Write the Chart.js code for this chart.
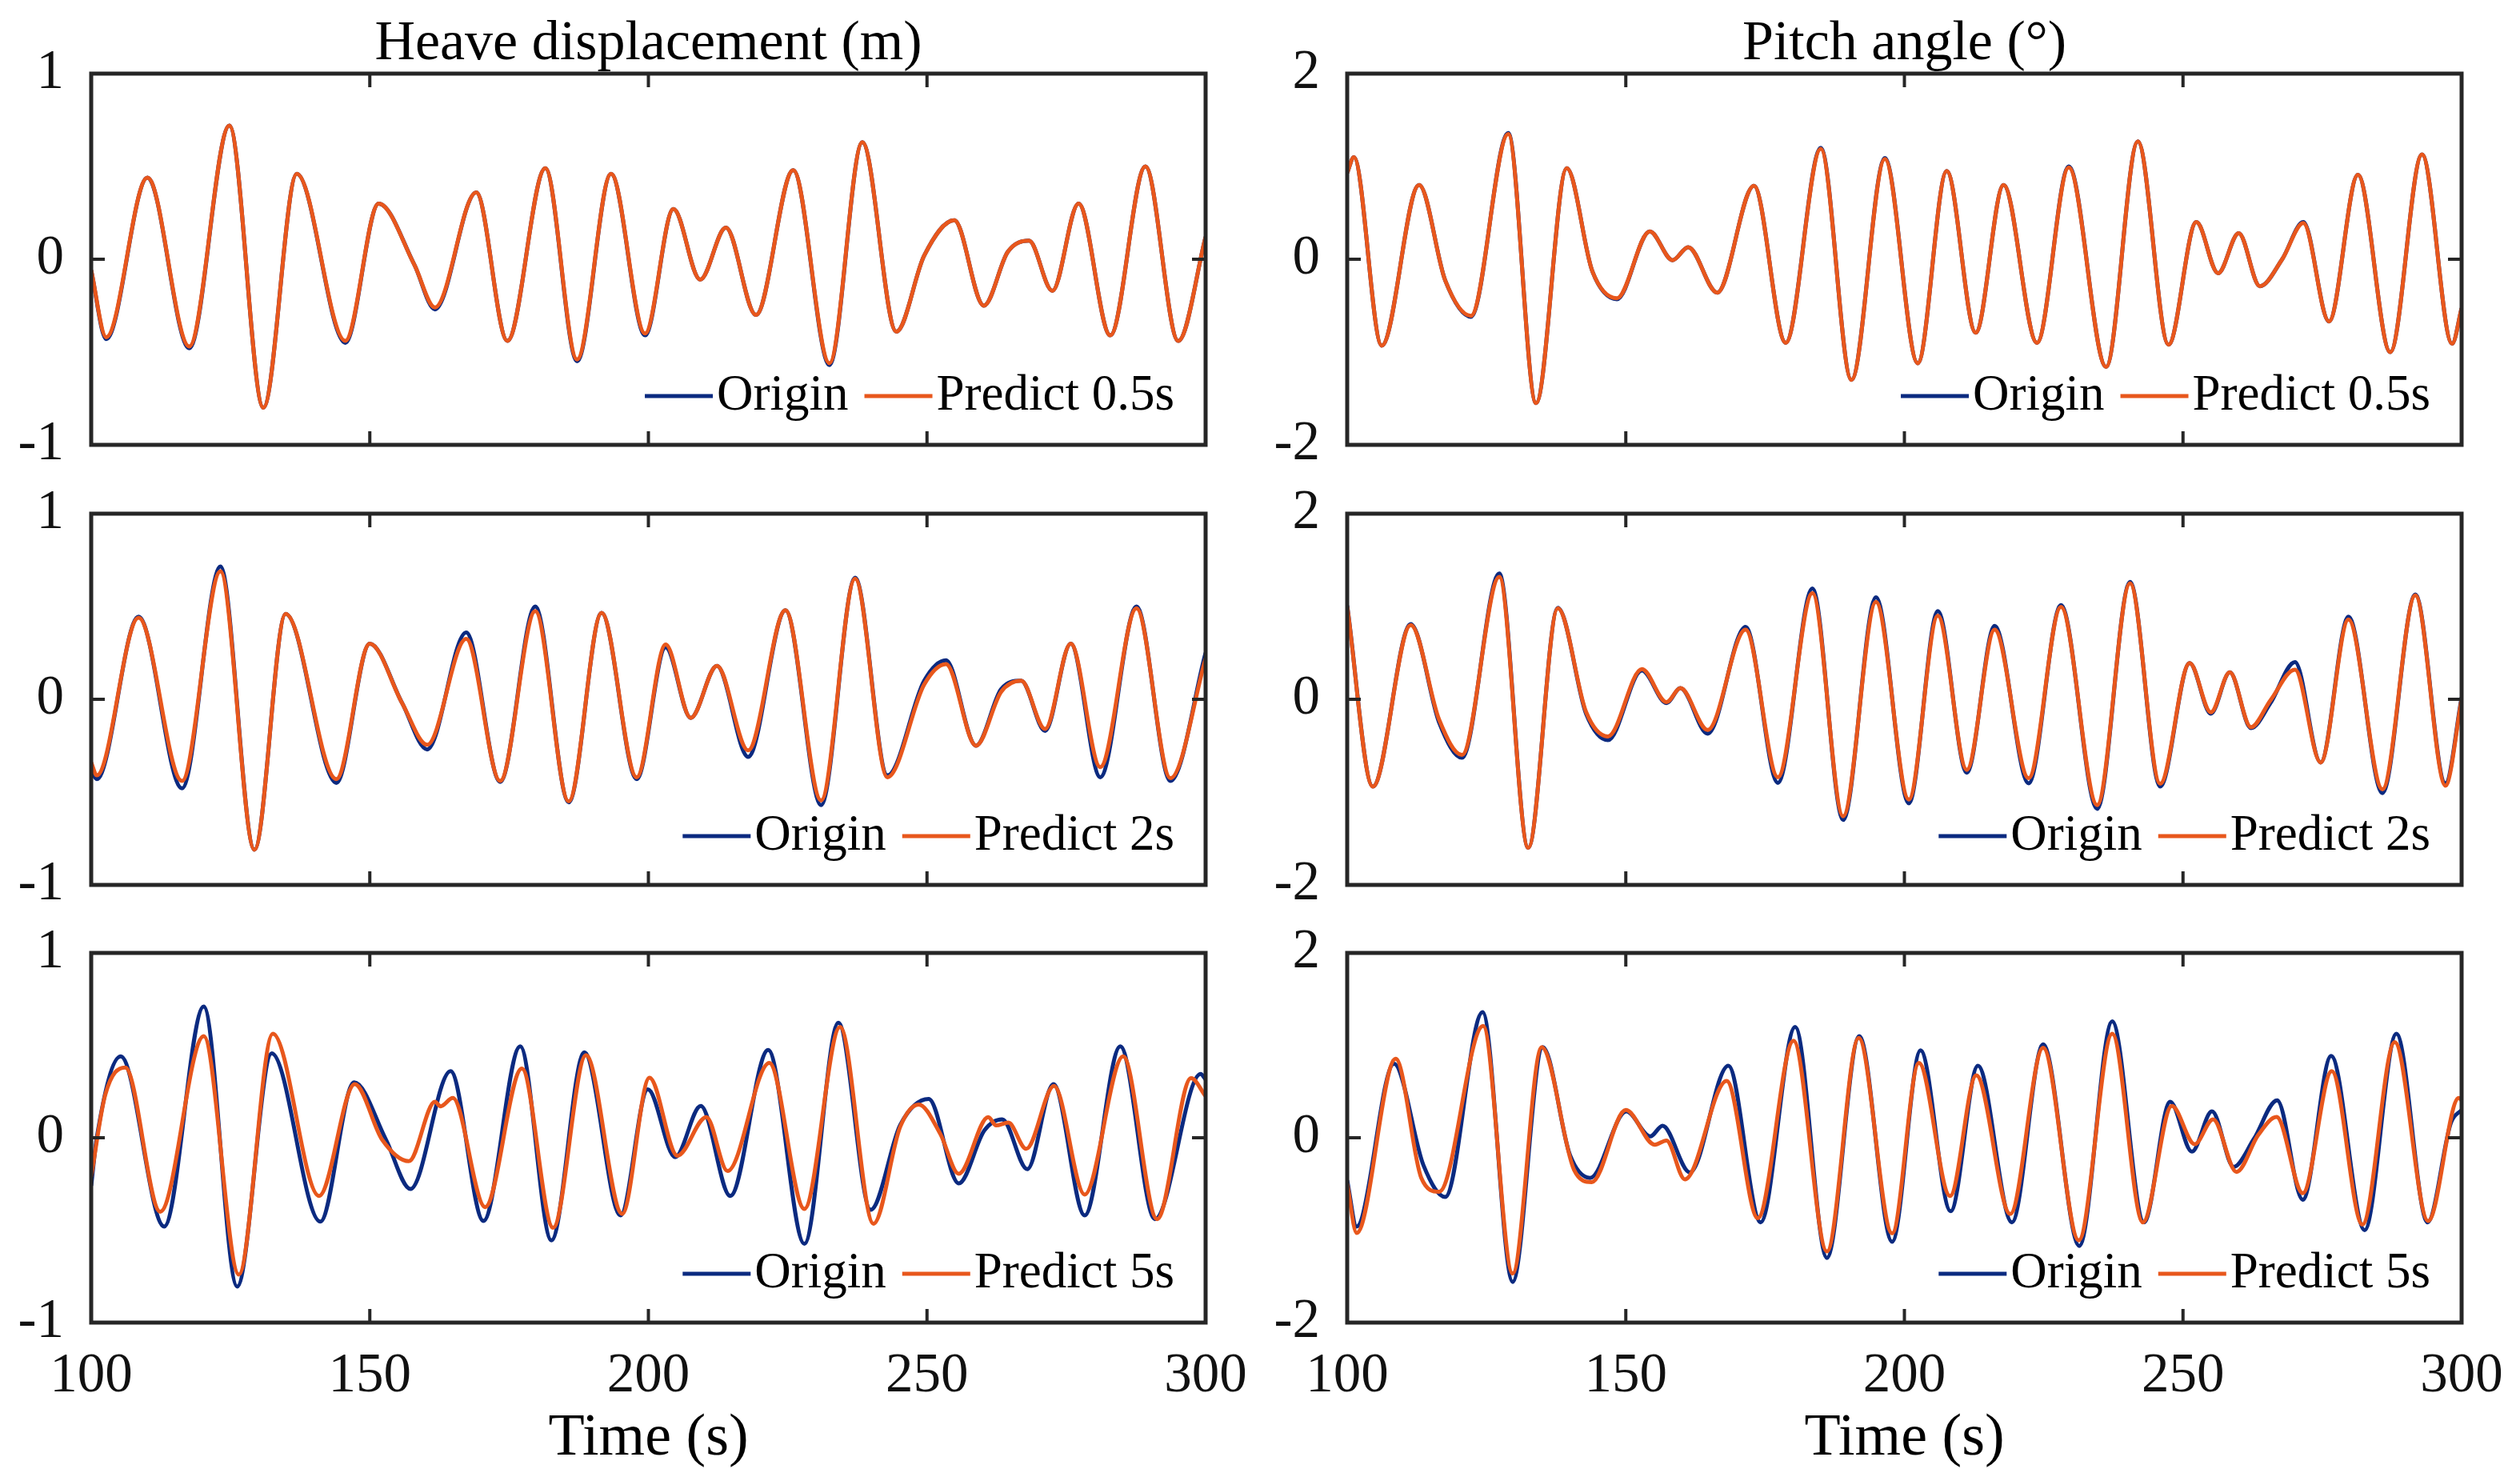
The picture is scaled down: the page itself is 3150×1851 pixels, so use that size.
<!DOCTYPE html>
<html>
<head>
<meta charset="utf-8">
<title>Heave and pitch prediction</title>
<script src="https://cdn.jsdelivr.net/npm/chart.js@4.4.1/dist/chart.umd.min.js"></script>
<style>
  html, body { margin: 0; padding: 0; background: #fff; }
  #wrap { position: relative; width: 3150px; height: 1851px; overflow: hidden; font-family: "Liberation Serif", serif; }
  canvas { position: absolute; }
</style>
</head>
<body>
<div id="wrap">
  <canvas id="c11" width="1575" height="600" style="left:0;top:0"></canvas>
  <canvas id="c12" width="1575" height="600" style="left:1575px;top:0"></canvas>
  <canvas id="c21" width="1575" height="550" style="left:0;top:600px"></canvas>
  <canvas id="c22" width="1575" height="550" style="left:1575px;top:600px"></canvas>
  <canvas id="c31" width="1575" height="701" style="left:0;top:1150px"></canvas>
  <canvas id="c32" width="1575" height="701" style="left:1575px;top:1150px"></canvas>
</div>
<script>
// ---- data (time in s, values at peaks / troughs) ----
const xTicks = [100, 150, 200, 250, 300];
const horizons = ["0.5s", "2s", "5s"];

// heave, 0.5 s
const heaveT1 = [100, 102.7, 110.1, 117.6, 124.8, 130.9, 136.9, 145.6, 151.6, 158, 161.7, 169.1, 174.7, 181.5, 187.2, 193.3, 199.4, 204.5, 209.3, 213.9, 219.3, 226, 232.5, 238.4, 244.5, 249.5, 254.9, 260.2, 264.5, 268.3, 272.5, 277.2, 282.9, 289.2, 295.1, 300];
const heaveOrig1 = [-0.06, -0.43, 0.44, -0.48, 0.72, -0.8, 0.46, -0.45, 0.3, -0.03, -0.27, 0.36, -0.44, 0.49, -0.55, 0.46, -0.41, 0.27, -0.11, 0.17, -0.3, 0.48, -0.57, 0.63, -0.39, 0.02, 0.21, -0.25, 0.04, 0.1, -0.17, 0.3, -0.41, 0.5, -0.44, 0.12];
const heavePred1 = [-0.06, -0.42, 0.44, -0.47, 0.72, -0.8, 0.46, -0.44, 0.3, -0.03, -0.26, 0.36, -0.44, 0.49, -0.54, 0.46, -0.4, 0.27, -0.11, 0.17, -0.3, 0.48, -0.56, 0.63, -0.39, 0.02, 0.21, -0.25, 0.04, 0.1, -0.17, 0.3, -0.41, 0.5, -0.44, 0.12];

// pitch, 0.5 s
const pitchT1 = [100, 101.2, 106.2, 112.9, 117.6, 122.2, 128.9, 133.9, 139.4, 144, 148.4, 154.3, 158.4, 161.2, 166.4, 173, 178.7, 185, 190.5, 196.5, 202.4, 207.6, 212.8, 217.8, 223.8, 229.5, 236.2, 241.9, 247.4, 252.4, 256.3, 260, 263.8, 267.8, 271.6, 276.2, 281.4, 287.2, 292.9, 298.3, 300];
const pitchOrig1 = [0.93, 1.1, -0.93, 0.8, -0.23, -0.62, 1.36, -1.55, 0.98, -0.13, -0.43, 0.3, -0.01, 0.13, -0.36, 0.79, -0.9, 1.2, -1.3, 1.09, -1.12, 0.95, -0.79, 0.8, -0.9, 1.0, -1.16, 1.27, -0.92, 0.4, -0.15, 0.28, -0.29, 0.0, 0.4, -0.67, 0.91, -1.0, 1.13, -0.91, -0.53];
const pitchPred1 = [0.93, 1.1, -0.93, 0.8, -0.23, -0.61, 1.35, -1.55, 0.98, -0.13, -0.42, 0.3, -0.01, 0.13, -0.36, 0.79, -0.9, 1.19, -1.3, 1.08, -1.12, 0.95, -0.79, 0.8, -0.9, 0.99, -1.16, 1.27, -0.92, 0.4, -0.15, 0.28, -0.29, 0.0, 0.39, -0.67, 0.91, -1.0, 1.13, -0.91, -0.53];

// heave, 2 s
const heaveT2 = [100, 101, 108.5, 116.3, 123.2, 129.3, 134.9, 144, 150, 155.8, 160.3, 167.3, 173.4, 179.7, 185.7, 191.6, 197.9, 203.1, 207.6, 212.3, 217.9, 224.6, 231, 237.1, 242.9, 249.5, 253.4, 258.8, 263.3, 266.9, 271.2, 275.8, 281.1, 287.6, 293.7, 300];
const heaveOrig2 = [-0.38, -0.43, 0.445, -0.48, 0.715, -0.81, 0.46, -0.45, 0.3, -0.02, -0.27, 0.36, -0.445, 0.5, -0.555, 0.465, -0.43, 0.28, -0.1, 0.18, -0.31, 0.48, -0.57, 0.655, -0.41, 0.1, 0.21, -0.25, 0.055, 0.1, -0.17, 0.3, -0.42, 0.5, -0.44, 0.25];
const heavePred2 = [-0.34, -0.41, 0.44, -0.44, 0.69, -0.81, 0.46, -0.43, 0.3, -0.02, -0.245, 0.325, -0.44, 0.475, -0.55, 0.465, -0.42, 0.295, -0.1, 0.18, -0.275, 0.48, -0.545, 0.65, -0.42, 0.08, 0.19, -0.25, 0.04, 0.1, -0.16, 0.3, -0.365, 0.49, -0.425, 0.22];

// pitch, 2 s
const pitchT2 = [100, 104.6, 111.4, 116.5, 120.6, 127.3, 132.5, 137.8, 142.9, 146.8, 152.9, 157.3, 159.8, 164.7, 171.5, 177.3, 183.5, 189, 194.9, 200.8, 206, 211.2, 216.2, 222.3, 228.1, 234.6, 240.5, 245.9, 251.2, 255, 258.4, 262.2, 265.7, 270.1, 274.7, 279.7, 285.8, 291.7, 297.1, 300];
const pitchOrig2 = [1.01, -0.94, 0.81, -0.25, -0.63, 1.355, -1.6, 0.985, -0.16, -0.44, 0.31, -0.04, 0.12, -0.37, 0.78, -0.9, 1.195, -1.3, 1.1, -1.12, 0.95, -0.79, 0.79, -0.905, 1.015, -1.18, 1.265, -0.94, 0.39, -0.155, 0.29, -0.31, -0.04, 0.4, -0.68, 0.89, -1.01, 1.13, -0.905, 0.02];
const pitchPred2 = [1.0, -0.94, 0.8, -0.22, -0.6, 1.32, -1.6, 0.98, -0.14, -0.4, 0.325, -0.03, 0.12, -0.33, 0.75, -0.84, 1.145, -1.26, 1.05, -1.08, 0.9, -0.76, 0.75, -0.85, 0.995, -1.14, 1.25, -0.91, 0.39, -0.14, 0.29, -0.3, -0.01, 0.32, -0.68, 0.86, -0.97, 1.12, -0.93, 0.0];

// heave, 5 s
const heaveOrigT3 = [100, 101, 105.3, 113.1, 120.2, 126.2, 132.4, 141.1, 147.2, 152.9, 157.3, 164.5, 170.4, 177, 182.6, 188.5, 195, 199.9, 204.8, 209.4, 214.7, 221.5, 228, 234.1, 239.9, 245.2, 250.3, 255.7, 260.3, 263.5, 268, 272.7, 278.3, 284.7, 290.9, 299.1, 300];
const heaveOrig3 = [-0.26, 0.0, 0.44, -0.48, 0.71, -0.805, 0.457, -0.454, 0.3, -0.01, -0.277, 0.36, -0.45, 0.495, -0.555, 0.462, -0.42, 0.262, -0.105, 0.172, -0.315, 0.475, -0.574, 0.622, -0.39, 0.07, 0.21, -0.247, 0.04, 0.1, -0.17, 0.29, -0.42, 0.495, -0.44, 0.345, 0.315];
const heavePredT3 = [100, 102.5, 106.1, 112.4, 120.2, 126.5, 132.6, 140.9, 147.3, 152.2, 157, 161.7, 162.7, 164.9, 170.7, 177.3, 182.9, 188.8, 195.3, 200.2, 205.2, 210.4, 214.2, 221.7, 228, 234.4, 240.4, 245.2, 248.5, 252.4, 255.7, 261, 262.4, 264.6, 267.8, 272.8, 278.3, 285.2, 291.3, 297.4, 300];
const heavePred3 = [-0.21, 0.23, 0.38, -0.4, 0.55, -0.74, 0.563, -0.315, 0.29, -0.01, -0.127, 0.195, 0.17, 0.215, -0.375, 0.375, -0.487, 0.447, -0.412, 0.325, -0.097, 0.112, -0.18, 0.405, -0.385, 0.6, -0.465, 0.06, 0.18, 0.02, -0.195, 0.112, 0.067, 0.082, -0.06, 0.28, -0.307, 0.44, -0.44, 0.322, 0.225];

// pitch, 5 s
const pitchOrigT3 = [100, 101.7, 108.4, 113.7, 117.6, 124.3, 129.7, 135.1, 140, 143.6, 150.1, 154.4, 156.6, 161.5, 168.4, 174.2, 180.4, 186.1, 191.9, 197.8, 202.9, 208.3, 213.2, 219.3, 224.9, 231.4, 237.3, 243, 247.7, 251.6, 255.2, 259.1, 262.7, 266.9, 271.5, 276.6, 282.6, 288.3, 293.9, 298.1, 300];
const pitchOrig3 = [-0.46, -0.96, 0.8, -0.3, -0.64, 1.36, -1.56, 0.98, -0.19, -0.435, 0.285, 0.015, 0.13, -0.375, 0.78, -0.915, 1.2, -1.3, 1.1, -1.125, 0.945, -0.795, 0.78, -0.915, 1.01, -1.17, 1.26, -0.915, 0.39, -0.15, 0.285, -0.315, -0.015, 0.405, -0.67, 0.885, -1.0, 1.125, -0.915, 0.165, 0.3];
const pitchPredT3 = [100, 101.7, 108.7, 113.3, 116.5, 124.4, 129.7, 134.9, 140.7, 143.9, 150, 155.2, 157.3, 160.6, 168.1, 173.7, 180.1, 186.1, 191.8, 197.8, 202.6, 208.2, 212.9, 219, 224.9, 231.3, 237.3, 242.8, 248, 252.1, 255.4, 259.6, 263.5, 266.8, 271.5, 276.7, 282.2, 288, 294, 299.5, 300];
const pitchPred3 = [-0.495, -1.03, 0.855, -0.435, -0.585, 1.21, -1.47, 0.98, -0.345, -0.48, 0.3, -0.075, -0.03, -0.45, 0.615, -0.87, 1.05, -1.23, 1.08, -1.035, 0.81, -0.63, 0.675, -0.825, 0.975, -1.11, 1.125, -0.915, 0.345, -0.07, 0.2, -0.37, 0.03, 0.225, -0.6, 0.72, -0.94, 1.035, -0.9, 0.43, 0.405];

const FONT = "'Liberation Serif'";
const BLUE = "#0b2a80";
const ORANGE = "#e8571c";
const FRAME = "#262626";

Chart.defaults.font.family = FONT;
Chart.defaults.color = "#111";

function pts(t, v) {
  return t.map((x, i) => ({ x: x, y: v[i] }));
}

// black box with inward ticks, drawn from the scales' own tick positions
const framePlugin = {
  id: "frame",
  afterDatasetsDraw(chart) {
    const { ctx, chartArea: a, scales } = chart;
    ctx.save();
    ctx.strokeStyle = FRAME;
    ctx.lineWidth = 4;
    ctx.beginPath();
    scales.x.ticks.forEach((t) => {
      const px = scales.x.getPixelForValue(t.value);
      if (px <= a.left + 2 || px >= a.right - 2) return;
      ctx.moveTo(px, a.bottom); ctx.lineTo(px, a.bottom - 17);
      ctx.moveTo(px, a.top); ctx.lineTo(px, a.top + 17);
    });
    scales.y.ticks.forEach((t) => {
      const py = scales.y.getPixelForValue(t.value);
      if (py <= a.top + 2 || py >= a.bottom - 2) return;
      ctx.moveTo(a.left, py); ctx.lineTo(a.left + 17, py);
      ctx.moveTo(a.right, py); ctx.lineTo(a.right - 17, py);
    });
    ctx.stroke();
    ctx.lineWidth = 5;
    ctx.strokeRect(a.left, a.top, a.right - a.left, a.bottom - a.top);
    ctx.restore();
  }
};

// legend in the lower right corner of the axes, no box
const legendPlugin = {
  id: "cornerLegend",
  afterDraw(chart) {
    const { ctx, chartArea: a } = chart;
    const sets = chart.data.datasets;
    ctx.save();
    ctx.font = "63px " + FONT;
    ctx.textBaseline = "middle";
    ctx.textAlign = "left";
    const y = a.bottom - 61;
    let x = a.right - 39;
    for (let i = sets.length - 1; i >= 0; i--) {
      const w = ctx.measureText(sets[i].label).width;
      x -= w;
      ctx.fillStyle = "#000";
      ctx.fillText(sets[i].label, x, y);
      x -= 5;
      ctx.strokeStyle = sets[i].borderColor;
      ctx.lineWidth = 5;
      ctx.beginPath();
      ctx.moveTo(x - 85, y);
      ctx.lineTo(x, y);
      ctx.stroke();
      x -= 85 + 20;
    }
    ctx.restore();
  }
};

function noPad(s) {
  s.paddingTop = 0; s.paddingBottom = 0; s.paddingLeft = 0; s.paddingRight = 0;
}

function makeChart(id, opts) {
  const showX = !!opts.bottomRow;
  new Chart(document.getElementById(id), {
    type: "line",
    data: {
      datasets: [
        { label: "Origin", data: opts.orig, borderColor: BLUE, borderWidth: 5, order: 1 },
        { label: "Predict " + opts.horizon, data: opts.pred, borderColor: ORANGE, borderWidth: 5, order: 0 }
      ]
    },
    options: {
      responsive: false,
      devicePixelRatio: 1,
      animation: false,
      parsing: false,
      elements: {
        point: { radius: 0 },
        line: { cubicInterpolationMode: "monotone", fill: false }
      },
      layout: { padding: { left: 0, right: opts.padRight, top: opts.padTop, bottom: 0 } },
      plugins: {
        legend: { display: false },
        tooltip: { enabled: false },
        title: {
          display: !!opts.title,
          text: opts.title || "",
          fullSize: false,
          color: "#000",
          font: { family: FONT, size: 70, weight: "normal", lineHeight: 1 },
          padding: { top: 21, bottom: 1 }
        }
      },
      scales: {
        x: {
          type: "linear",
          min: 100,
          max: 300,
          afterBuildTicks: (s) => { s.ticks = xTicks.map((v) => ({ value: v })); },
          afterFit: (s) => { s.height = opts.xHeight; noPad(s); },
          grid: { display: false },
          border: { display: false },
          ticks: {
            display: showX,
            color: "#111",
            padding: 18,
            maxRotation: 0,
            font: { family: FONT, size: 69, weight: "normal" }
          },
          title: {
            display: showX,
            text: "Time (s)",
            color: "#000",
            font: { family: FONT, size: 74, weight: "normal", lineHeight: 1 },
            padding: { top: 0, bottom: 15 }
          }
        },
        y: {
          min: -opts.yMax,
          max: opts.yMax,
          afterBuildTicks: (s) => { s.ticks = [-opts.yMax, 0, opts.yMax].map((v) => ({ value: v })); },
          afterFit: (s) => { s.width = opts.yWidth; noPad(s); },
          grid: { display: false },
          border: { display: false },
          ticks: {
            color: "#111",
            padding: 26,
            font: { family: FONT, size: 69, weight: "normal" }
          }
        }
      }
    },
    plugins: [framePlugin, legendPlugin]
  });
}

const LEFT = { yWidth: 114, padRight: 68, yMax: 1 };
const RIGHT = { yWidth: 109, padRight: 73, yMax: 2 };

function build() {
  makeChart("c11", Object.assign({}, LEFT, { title: "Heave displacement (m)", padTop: 0, xHeight: 44, horizon: horizons[0],
    orig: pts(heaveT1, heaveOrig1), pred: pts(heaveT1, heavePred1) }));
  makeChart("c12", Object.assign({}, RIGHT, { title: "Pitch angle (\u00B0)", padTop: 0, xHeight: 44, horizon: horizons[0],
    orig: pts(pitchT1, pitchOrig1), pred: pts(pitchT1, pitchPred1) }));
  makeChart("c21", Object.assign({}, LEFT, { padTop: 42, xHeight: 44, horizon: horizons[1],
    orig: pts(heaveT2, heaveOrig2), pred: pts(heaveT2, heavePred2) }));
  makeChart("c22", Object.assign({}, RIGHT, { padTop: 42, xHeight: 44, horizon: horizons[1],
    orig: pts(pitchT2, pitchOrig2), pred: pts(pitchT2, pitchPred2) }));
  makeChart("c31", Object.assign({}, LEFT, { padTop: 41, xHeight: 198, horizon: horizons[2], bottomRow: true,
    orig: pts(heaveOrigT3, heaveOrig3), pred: pts(heavePredT3, heavePred3) }));
  makeChart("c32", Object.assign({}, RIGHT, { padTop: 41, xHeight: 198, horizon: horizons[2], bottomRow: true,
    orig: pts(pitchOrigT3, pitchOrig3), pred: pts(pitchPredT3, pitchPred3) }));
}

// make sure the serif face is ready before the canvases paint text
if (document.fonts && document.fonts.load) {
  document.fonts.load("69px 'Liberation Serif'").then(build, build);
} else {
  build();
}
</script>
</body>
</html>
